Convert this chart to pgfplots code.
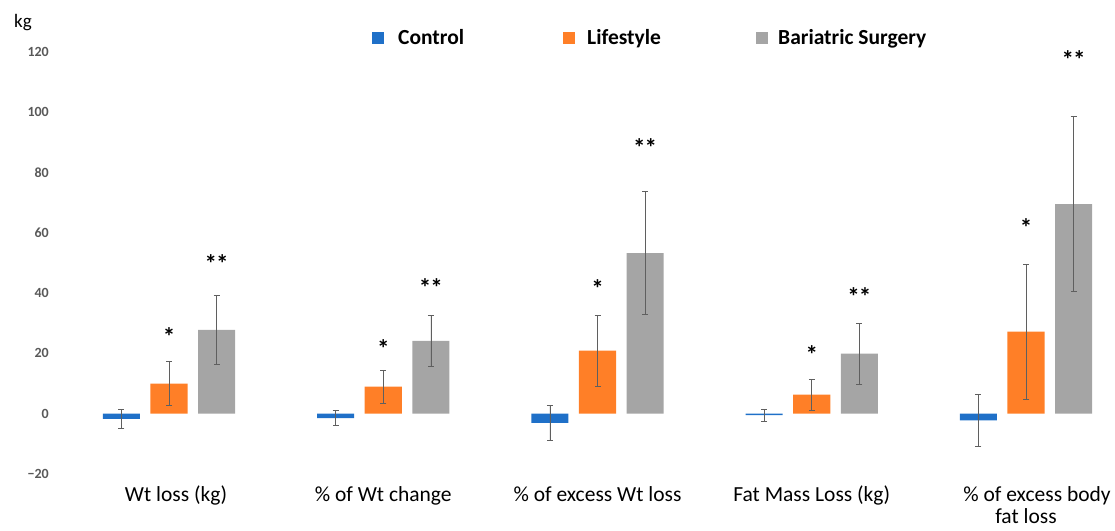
\documentclass[border=0pt]{standalone}
\usepackage{fontspec}
\setmainfont{Carlito}
\usepackage{pgfplots}
\usepackage{pgfplotstable}
\pgfplotsset{compat=1.18}
\definecolor{cblue}{RGB}{31,112,200}
\definecolor{corange}{RGB}{255,127,39}
\definecolor{cgray}{RGB}{165,165,165}
\definecolor{errc}{RGB}{95,95,95}
\definecolor{tickc}{RGB}{89,89,89}

\pgfplotstableread{
x y e
-0.222 -1.7 3.0
0.778 -1.5 2.5
1.778 -3.0 5.7
2.778 -0.5 2.0
3.778 -2.2 8.6
}\control
\pgfplotstableread{
x y e
0 10.0 7.3
1 9.0 5.4
2 20.9 11.8
3 6.3 5.1
4 27.2 22.3
}\lifestyle
\pgfplotstableread{
x y e
0.222 27.8 11.5
1.222 24.2 8.5
2.222 53.3 20.4
3.222 19.9 10.1
4.222 69.5 29.0
}\surgery

\begin{document}
\begin{tikzpicture}
\begin{axis}[
  scale only axis, width=1064pt, height=422pt,
  xmin=-0.5508, xmax=4.4154, ymin=-20, ymax=120,
  axis line style={draw=none},
  major tick length=0pt,
  clip=false,
  xtick={0,1,2,3,4},
  xticklabels={\hspace*{14pt}Wt loss (kg),\% of Wt change,\% of excess Wt loss,Fat Mass Loss (kg),\hspace*{22pt}\% of excess body\\fat loss},
  ytick={-20,0,20,40,60,80,100,120},
  yticklabels={−20,0,20,40,60,80,100,120},
  yticklabel style={font=\bfseries\fontsize{14}{16}\selectfont, text=tickc, inner sep=0pt, xshift=-2pt},
  xticklabel style={font=\fontsize{21.5}{22}\selectfont, align=center, anchor=north, inner sep=0pt, yshift=-12pt},
  legend image code/.code={\fill[#1] (0pt,-6pt) rectangle (12pt,6pt);},
  legend style={at={(axis cs:0.9475,124.6)}, anchor=west, draw=none, fill=none, inner sep=0pt,
    column sep=0pt, nodes={inner sep=0pt}, font=\bfseries\fontsize{21.5}{23}\selectfont},
  legend columns=3,
  legend cell align=left,
  error bars/y dir=both,
  error bars/y explicit,
  error bars/error bar style={errc, line width=0.6pt},
  error bars/error mark options={rotate=90, errc, mark size=3pt, line width=0.6pt},
]
\addlegendimage{fill=cblue, draw=none}
\addlegendentry{\hspace{14pt}\makebox[165pt][l]{Control}}
\addlegendimage{fill=corange, draw=none}
\addlegendentry{\hspace{12pt}\makebox[169pt][l]{Lifestyle}}
\addlegendimage{fill=cgray, draw=none}
\addlegendentry{\hspace{10pt}Bariatric Surgery}

\addplot[ybar, bar shift=0pt, bar width=0.173, fill=cblue, draw=none, forget plot,
  error bars/.cd, y dir=both, y explicit] table[x=x, y=y, y error=e] {\control};
\addplot[ybar, bar shift=0pt, bar width=0.173, fill=corange, draw=none, forget plot,
  error bars/.cd, y dir=both, y explicit] table[x=x, y=y, y error=e] {\lifestyle};
\addplot[ybar, bar shift=0pt, bar width=0.173, fill=cgray, draw=none, forget plot,
  error bars/.cd, y dir=both, y explicit] table[x=x, y=y, y error=e] {\surgery};

\begin{scope}[every node/.style={font=\bfseries\fontsize{25}{27}\selectfont, inner sep=0pt}]
\node at (axis cs:0,25.5) {*};
\node at (axis cs:0.222,49.7) {*\kern-1pt*};
\node at (axis cs:1,21.5) {*};
\node at (axis cs:1.222,41.7) {*\kern-1pt*};
\node at (axis cs:2,41.4) {*};
\node at (axis cs:2.222,88.4) {*\kern-1pt*};
\node at (axis cs:3,19.5) {*};
\node at (axis cs:3.222,39) {*\kern-1pt*};
\node at (axis cs:4,61.9) {*};
\node at (axis cs:4.222,117.5) {*\kern-1pt*};
\end{scope}
\node[font=\fontsize{19}{21}\selectfont, inner sep=0pt] at (axis cs:-0.6815,129.8) {kg};
\coordinate (bbl) at (axis cs:-0.7888,-38.58);
\coordinate (btr) at (axis cs:4.4154,137.25);
\end{axis}
\pgfresetboundingbox
\path[use as bounding box] (bbl) rectangle (btr);
\end{tikzpicture}
\end{document}
